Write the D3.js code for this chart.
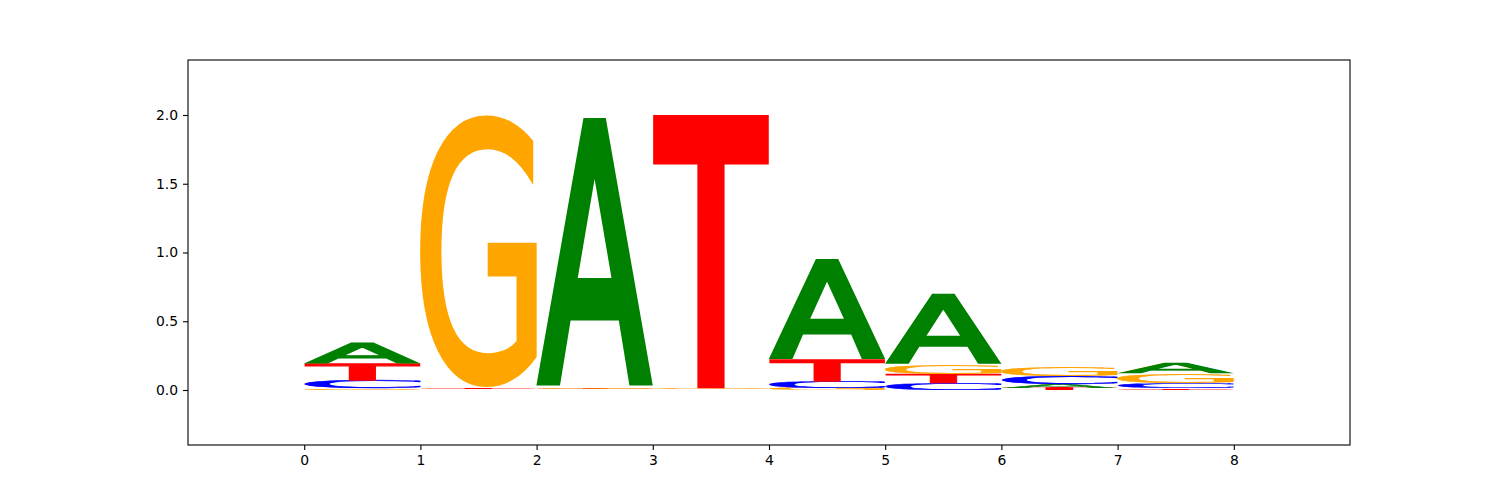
<!DOCTYPE html>
<html>
<head>
<meta charset="utf-8">
<script src="https://cdn.jsdelivr.net/npm/d3@7"></script>
<style>
  html, body { margin: 0; padding: 0; background: #fff; }
  svg { display: block; }
  .tick text { font-family: "DejaVu Sans", sans-serif; font-size: 13.9px; fill: #000; }
</style>
</head>
<body>
<svg id="chart" width="1500" height="500"></svg>
<script>
// ---- data (information content per letter, per position) ----
const positions = [0, 1, 2, 3, 4, 5, 6, 7];
const letters = ["A", "C", "G", "T"];
const heightA = [0.150, 0.003, 1.960, 0.002, 0.735, 0.510, 0.025, 0.080];
const heightC = [0.058, 0.002, 0.004, 0.002, 0.045, 0.045, 0.060, 0.038];
const heightG = [0.010, 1.985, 0.012, 0.008, 0.015, 0.072, 0.070, 0.070];
const heightT = [0.122, 0.008, 0.004, 1.990, 0.165, 0.068, 0.015, 0.012];
const letterColors = ["#008000", "#0000ff", "#ffa500", "#ff0000"];
const xTicks = [0, 1, 2, 3, 4, 5, 6, 7, 8];
const yTicks = [0.0, 0.5, 1.0, 1.5, 2.0];

const heights = { A: heightA, C: heightC, G: heightG, T: heightT };
const colorOf = {};
letters.forEach((l, i) => colorOf[l] = letterColors[i]);

const svg = d3.select("#chart");
const x = d3.scaleLinear().domain([-1, 9]).range([188, 1350]);
const y = d3.scaleLinear().domain([-0.4, 2.4]).range([445, 60]);

// glyph font: regular face thickened with a same-colour outline (glyph units)
const FS = 200;
const FONT = `${FS}px 'DejaVu Sans'`;
const outline = { A: 8, C: 6, G: 3, T: 12 };
const cw = 420, ch = 420, ox = 110, oy = 310;
const canvas = document.createElement("canvas");
canvas.width = cw; canvas.height = ch;
const ctx = canvas.getContext("2d");
const metrics = {};
letters.forEach(l => {
  ctx.clearRect(0, 0, cw, ch);
  ctx.font = FONT;
  ctx.fillStyle = "#000";
  ctx.strokeStyle = "#000";
  ctx.lineWidth = outline[l];
  ctx.lineJoin = "miter";
  ctx.miterLimit = 4;
  ctx.textBaseline = "alphabetic";
  ctx.fillText(l, ox, oy);
  ctx.strokeText(l, ox, oy);
  const data = ctx.getImageData(0, 0, cw, ch).data;
  let minX = cw, maxX = -1, minY = ch, maxY = -1;
  for (let yy = 0; yy < ch; yy++) {
    for (let xx = 0; xx < cw; xx++) {
      if (data[(yy * cw + xx) * 4 + 3] > 100) {
        if (xx < minX) minX = xx;
        if (xx > maxX) maxX = xx;
        if (yy < minY) minY = yy;
        if (yy > maxY) maxY = yy;
      }
    }
  }
  metrics[l] = { L: ox - minX, R: maxX + 1 - ox, A: oy - minY, D: maxY + 1 - oy };
});

const g = svg.append("g");
const plot = g.append("g");

// stacks: smallest at bottom
const glyphs = [];
positions.forEach((p, i) => {
  const items = letters.map(l => ({ l, v: heights[l][i] }))
    .sort((a, b) => a.v - b.v);
  let base = 0;
  items.forEach(it => {
    glyphs.push({ l: it.l, x0: p, x1: p + 1, y0: base, y1: base + it.v });
    base += it.v;
  });
});

plot.selectAll("text.glyph").data(glyphs).join("text")
  .attr("class", "glyph")
  .text(d => d.l)
  .attr("x", 0).attr("y", 0)
  .style("font", FONT)
  .attr("fill", d => colorOf[d.l])
  .attr("stroke", d => colorOf[d.l])
  .attr("stroke-width", d => outline[d.l])
  .attr("stroke-linejoin", "miter")
  .attr("stroke-miterlimit", 4)
  .attr("transform", d => {
    const m = metrics[d.l];
    const bx0 = x(d.x0), bx1 = x(d.x1);
    const byTop = y(d.y1), byBot = y(d.y0);
    const sx = (bx1 - bx0) / (m.L + m.R);
    const sy = (byBot - byTop) / (m.A + m.D);
    return `translate(${bx0},${byTop}) scale(${sx},${sy}) translate(${m.L},${m.A})`;
  });

// axes
const xAxis = d3.axisBottom(x).tickValues(xTicks).tickFormat(d3.format("d")).tickSize(5).tickPadding(5);
const yAxis = d3.axisLeft(y).tickValues(yTicks).tickFormat(d3.format(".1f")).tickSize(5).tickPadding(5);

const gx = g.append("g").attr("transform", "translate(0,445)").call(xAxis);
const gy = g.append("g").attr("transform", "translate(188,0)").call(yAxis);
[gx, gy].forEach(a => {
  a.select(".domain").remove();
  a.selectAll(".tick line").attr("stroke", "#000").attr("stroke-width", 1.1);
});

// frame
g.append("rect")
  .attr("x", x(-1)).attr("y", y(2.4))
  .attr("width", x(9) - x(-1)).attr("height", y(-0.4) - y(2.4))
  .attr("fill", "none").attr("stroke", "#000").attr("stroke-width", 1.1);
</script>
</body>
</html>
